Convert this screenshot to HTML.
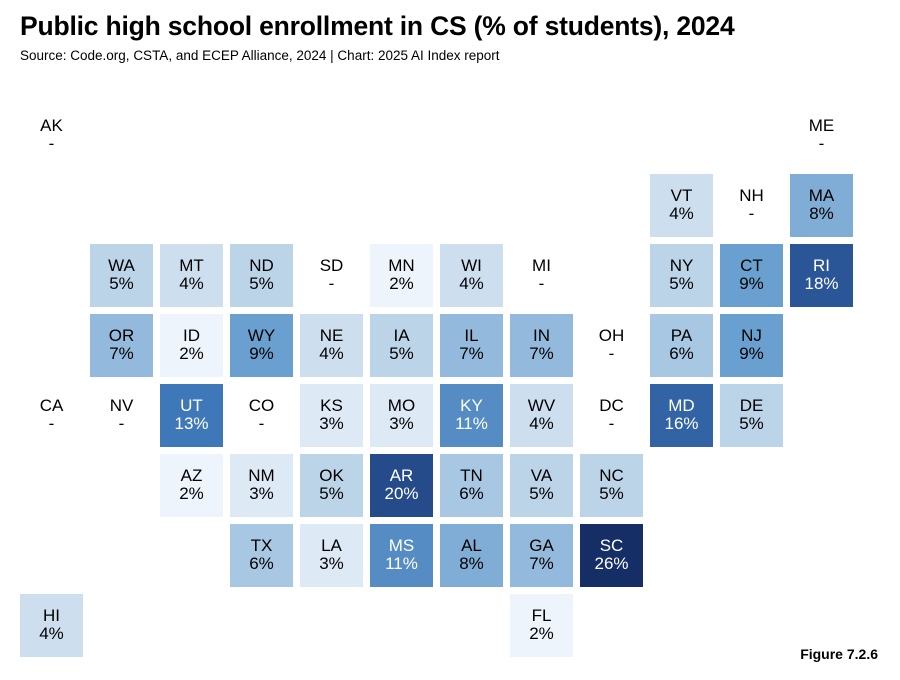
<!DOCTYPE html>
<html><head><meta charset="utf-8"><style>
body{margin:0;width:900px;height:680px;background:#fff;font-family:"Liberation Sans",sans-serif;position:relative;overflow:hidden}
#title{position:absolute;left:20px;top:11px;font-size:26.5px;font-weight:bold;color:#000;margin:0;letter-spacing:-0.2px}
#sub{position:absolute;left:20px;top:48px;font-size:13.5px;color:#000}
#fig{position:absolute;right:22px;top:646px;font-size:14px;font-weight:bold}
.cell{position:absolute;width:63px;height:63px;text-align:center;font-size:17px;line-height:18px;box-sizing:border-box;padding-top:13px}
</style></head><body>
<h1 id="title">Public high school enrollment in CS (% of students), 2024</h1>
<div id="sub">Source: Code.org, CSTA, and ECEP Alliance, 2024 | Chart: 2025 AI Index report</div>
<div id="map"></div>
<div id="fig">Figure 7.2.6</div>
<script>
const states=["AK","ME","VT","NH","MA","WA","MT","ND","SD","MN","WI","MI","NY","CT","RI","OR","ID","WY","NE","IA","IL","IN","OH","PA","NJ","CA","NV","UT","CO","KS","MO","KY","WV","DC","MD","DE","AZ","NM","OK","AR","TN","VA","NC","TX","LA","MS","AL","GA","SC","HI","FL"];
const values=[null,null,4,null,8,5,4,5,null,2,4,null,5,9,18,7,2,9,4,5,7,7,null,6,9,null,null,13,null,3,3,11,4,null,16,5,2,3,5,20,6,5,5,6,3,11,8,7,26,4,2];
const cols=[0,11,9,10,11,1,2,3,4,5,6,7,9,10,11,1,2,3,4,5,6,7,8,9,10,0,1,2,3,4,5,6,7,8,9,10,2,3,4,5,6,7,8,3,4,5,6,7,8,0,7];
const rows=[0,0,1,1,1,2,2,2,2,2,2,2,2,2,2,3,3,3,3,3,3,3,3,3,3,4,4,4,4,4,4,4,4,4,4,4,5,5,5,5,5,5,5,6,6,6,6,6,6,7,7];
const stops=[[0,[247,251,255]],[2,[238,244,251]],[5,[188,212,232]],[9,[106,160,207]],[13,[63,120,184]],[18,[42,85,151]],[26,[21,46,102]]];
function color(v){for(let i=1;i<stops.length;i++){if(v<=stops[i][0]){const a=stops[i-1],b=stops[i],t=(v-a[0])/(b[0]-a[0]);return 'rgb('+a[1].map((c,k)=>Math.round(c+(b[1][k]-c)*t)).join(',')+')';}}return 'rgb(21,46,102)';}
const map=document.getElementById('map');
states.forEach((s,i)=>{
 const d=document.createElement('div');d.className='cell';
 
 
 d.style.left=(20+cols[i]*70)+'px';d.style.top=(104+rows[i]*70)+'px';
 const v=values[i];
 if(v!=null){d.style.background=color(v);if(v>=10)d.style.color='#fff';}
 d.innerHTML=s+'<br>'+(v==null?'-':v+'%');
 map.appendChild(d);
});
</script>
</body></html>
